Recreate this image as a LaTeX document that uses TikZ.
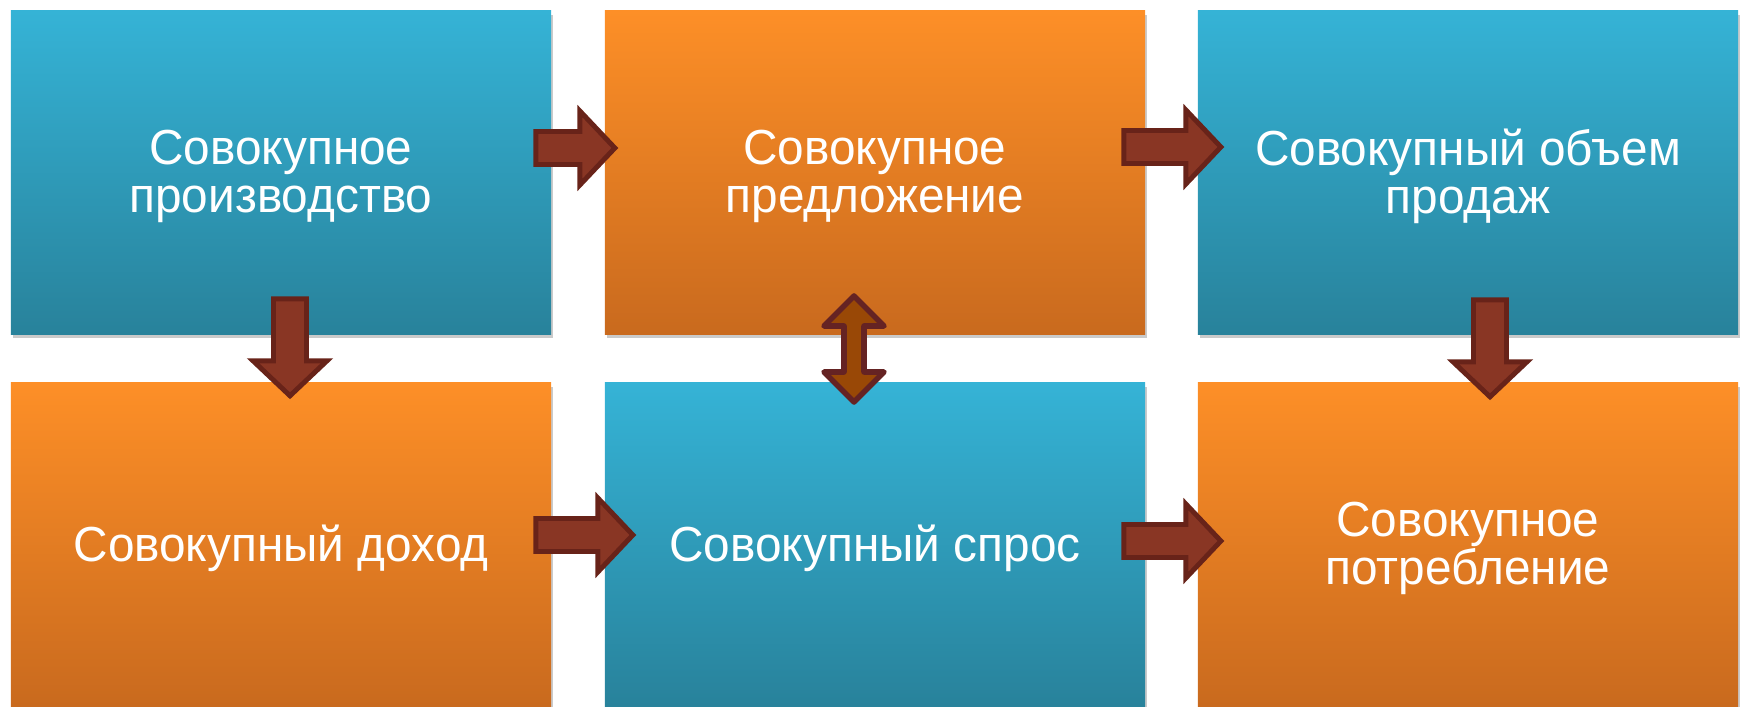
\documentclass[tikz,border=0pt]{standalone}
\usepackage{fontspec}
\setmainfont[FakeStretch=0.97]{Liberation Sans}
\usepackage{tikz}
\usetikzlibrary{calc,shadows}

\definecolor{bluetop}{RGB}{53,179,214}
\definecolor{bluebot}{RGB}{40,130,155}
\definecolor{orangetop}{RGB}{253,143,39}
\definecolor{orangebot}{RGB}{201,106,30}
\definecolor{arrowfill}{RGB}{137,54,36}
\definecolor{arrowedge}{RGB}{104,35,25}
\definecolor{dblfill}{RGB}{153,72,6}
\definecolor{dbledge}{RGB}{101,35,35}

\tikzset{
  box/.style={rectangle,minimum width=5.4cm,minimum height=3.23cm,inner sep=0pt,
    drop shadow={shadow xshift=0.6pt,shadow yshift=-1.2pt,opacity=0.35,fill=black!60}},
  boxtext/.style={align=center,text=white,inner sep=0pt,yshift=-1pt,
    font=\fontsize{14}{13.6}\selectfont},
  bluebox/.style={box,top color=bluetop,bottom color=bluebot},
  orangebox/.style={box,top color=orangetop,bottom color=orangebot},
  arrowline/.style={fill=arrowfill,draw=arrowedge,line width=1.4pt,line join=miter},
  dblline/.style={fill=dblfill,draw=dbledge,line width=1.6pt,line join=round},
  pics/blockarrow/.style={code={
    \draw[arrowline] (0,-16.5) -- ({#1-38},-16.5) -- ({#1-38},-37) -- ({#1-3},0)
      -- ({#1-38},37) -- ({#1-38},16.5) -- (0,16.5) -- cycle;}},
  pics/dblarrow/.style={code={
    \draw[dblline] (0,0) -- (30,30) -- (10,30) -- (10,{#1-30}) -- (30,{#1-30}) -- (0,#1)
      -- (-30,{#1-30}) -- (-10,{#1-30}) -- (-10,30) -- (-30,30) -- cycle;}}
}

\begin{document}
\begin{tikzpicture}[x=0.01cm,y=-0.01cm]
\useasboundingbox (0,0) rectangle (1743,707);
% top row
\node[bluebox,label={[boxtext]center:Совокупное\\производство}] (prod) at (281,172.5) {};
\node[orangebox,label={[boxtext]center:Совокупное\\предложение}] (supply) at (875,172.5) {};
\node[bluebox,label={[boxtext]center:Совокупный объем\\продаж}] (sales) at (1468,172.5) {};
% bottom row
\node[orangebox,label={[boxtext]center:Совокупный доход}] (income) at (281,544.5) {};
\node[bluebox,label={[boxtext]center:Совокупный спрос}] (demand) at (875,544.5) {};
\node[orangebox,label={[boxtext]center:Совокупное\\потребление}] (cons) at (1468,544.5) {};
% arrows
\coordinate (a1) at ($(prod.east)+(-16,-24.5)$);
\coordinate (a2) at ($(supply.east)+(-22,-25.5)$);
\coordinate (a3) at ($(income.east)+(-16,-9.5)$);
\coordinate (a4) at ($(demand.east)+(-22,-3.5)$);
\coordinate (d1) at ($(prod.south)+(9,-36)$);
\coordinate (d2) at ($(sales.south)+(22,-35)$);
\coordinate (m) at ($(supply.south)!0.5!(demand.north)+(-21,-62.5)$);
\pic at (a1) {blockarrow=82};
\pic at (a2) {blockarrow=100};
\pic at (a3) {blockarrow=100};
\pic at (a4) {blockarrow=100};
\pic[rotate=-90] at (d1) {blockarrow=100};
\pic[rotate=-90] at (d2) {blockarrow=100};
\pic at (m) {dblarrow=106};
\end{tikzpicture}
\end{document}
